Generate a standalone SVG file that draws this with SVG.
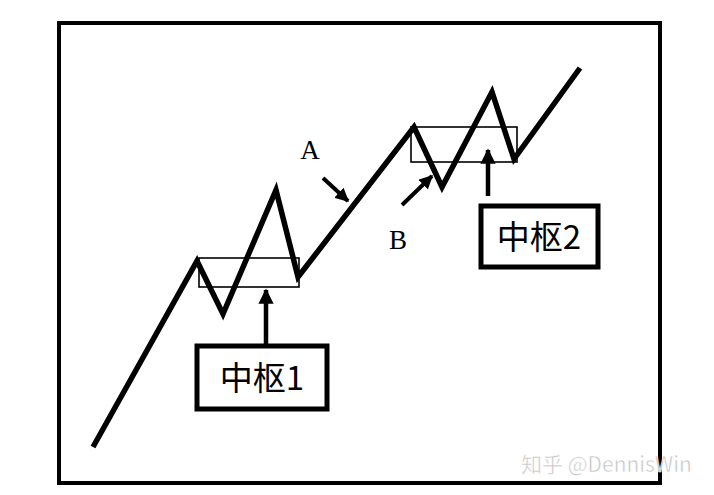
<svg xmlns="http://www.w3.org/2000/svg" width="714" height="495" viewBox="0 0 714 495">
<defs>
<style>
.zz{fill:none;stroke:#000;stroke-width:1.6}
.lbl{fill:#fff;stroke:#000;stroke-width:5}
.t{font-family:"Noto Sans CJK SC","Noto Sans CJK JP",sans-serif;font-size:33px;fill:#000}
.s{font-family:"Liberation Serif",serif;font-size:27px;fill:#000}
.arr{stroke:#000;stroke-width:4.5;fill:none}
.sarr{stroke:#000;stroke-width:4;fill:none}
</style>
<marker id="ah" viewBox="0 0 10 10" refX="9" refY="5" markerWidth="3.4" markerHeight="3.4" orient="auto" markerUnits="strokeWidth">
<path d="M0,0 L10,5 L0,10 Z" fill="#000"/>
</marker>
</defs>
<rect width="714" height="495" fill="#fff"/>
<rect id="frame" x="59" y="23" width="601" height="460" fill="none" stroke="#000" stroke-width="4"/>
<g id="zhongshu1-zone"><rect class="zz" x="199" y="258" width="100" height="29"/></g>
<g id="zhongshu2-zone"><rect class="zz" x="411" y="127" width="106" height="35"/></g>
<g id="connectors">
<polyline points="93,447 197,261 223,314 276,190 298,277 414,127 442,187 492,92 514,159 580,68" fill="none" stroke="#000" stroke-width="5.5" stroke-linejoin="miter"/>
<line class="arr" x1="266" y1="346" x2="266" y2="290" marker-end="url(#ah)"/>
<line class="arr" x1="488" y1="196" x2="488" y2="150" marker-end="url(#ah)"/>
<line class="sarr" x1="323" y1="178" x2="348" y2="201" marker-end="url(#ah)"/>
<line class="sarr" x1="402" y1="205" x2="432" y2="176" marker-end="url(#ah)"/>
</g>
<g id="labelA"><text class="s" x="310" y="159" text-anchor="middle">A</text></g>
<g id="labelB"><text class="s" x="398" y="249" text-anchor="middle">B</text></g>
<g id="zhongshu1"><rect class="lbl" x="197" y="346" width="130" height="63"/><text class="t" x="262" y="390" text-anchor="middle">中枢1</text></g>
<g id="zhongshu2"><rect class="lbl" x="481" y="206" width="117" height="61"/><text class="t" x="539" y="249" text-anchor="middle">中枢2</text></g>
<text x="521" y="472" font-family="Noto Sans CJK SC,sans-serif" font-size="21" fill="#c4c4c4" stroke="#fff" stroke-width="0.5">知乎 @DennisWin</text>
</svg>
